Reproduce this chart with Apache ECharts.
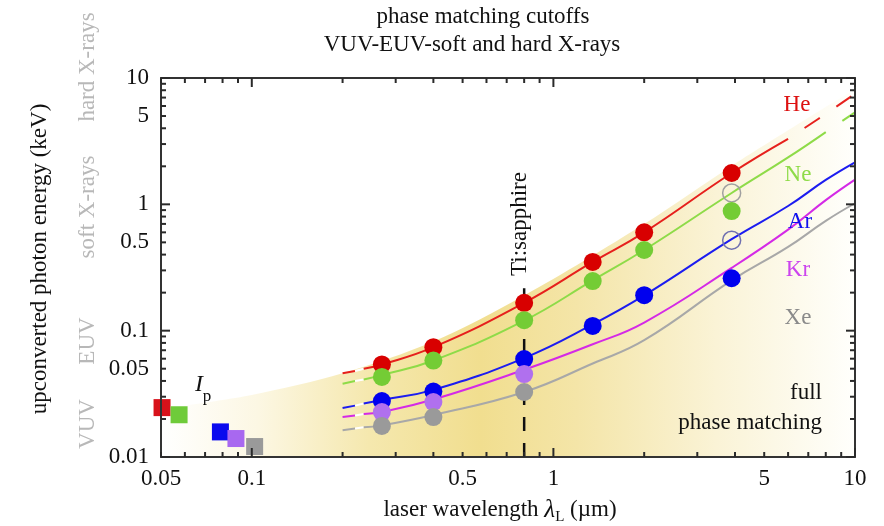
<!DOCTYPE html>
<html><head><meta charset="utf-8">
<script src="https://cdn.jsdelivr.net/npm/echarts@6/dist/echarts.min.js"></script>
<style>html,body{margin:0;padding:0;background:#fff}#c{width:884px;height:526px}</style>
</head><body><div id="c"></div>
<script>
// ---------- data ----------
const xRange = [0.05, 10];
const yRange = [0.01, 10];
const xTickValues = [0.05,0.06,0.07,0.08,0.09,0.1,0.2,0.3,0.4,0.5,0.6,0.7,0.8,0.9,1,2,3,4,5,6,7,8,9,10];
const xDecades = [0.1, 1, 10];
const xLabelValues = [0.05, 0.1, 0.5, 1, 5, 10];
const xLabelTexts = ['0.05', '0.1', '0.5', '1', '5', '10'];
const yTickValues = [0.01,0.02,0.03,0.04,0.05,0.06,0.07,0.08,0.09,0.1,0.2,0.3,0.4,0.5,0.6,0.7,0.8,0.9,1,2,3,4,5,6,7,8,9,10];
const yDecades = [0.01, 0.1, 1, 10];
const yLabelValues = [0.01, 0.05, 0.1, 0.5, 1, 5, 10];
const yLabelTexts = ['0.01', '0.05', '0.1', '0.5', '1', '5', '10'];

const gases = ['He', 'Ne', 'Ar', 'Kr', 'Xe'];
// ionization potentials (squares)
const ipWavelength = [0.0504, 0.0574, 0.0787, 0.0886, 0.1022];
const ipEnergy = [0.0246, 0.0216, 0.0158, 0.0140, 0.0121];

// measured cutoffs (filled dots)
const dotWavelength = [0.27, 0.4, 0.8, 1.35, 2.0, 3.9];
const heDots = [0.054, 0.074, 0.166, 0.35, 0.60, 1.77];
const neDots = [0.043, 0.058, 0.121, 0.247, 0.435, 0.885];
const arDots = [0.0277, 0.033, 0.0596, 0.109, 0.191, 0.26];
const krDots = [0.0227, 0.0272, 0.0453];
const xeDots = [0.0176, 0.0207, 0.0327];
// open circles (Ne, Ar at 3.9 um)
const neOpen = [[3.9, 1.23]];
const arOpen = [[3.9, 0.52]];

// phase-matching cutoff curves
const curveWavelength = [0.2, 0.22, 0.235, 0.27, 0.4, 0.8, 1.35, 2, 3.9, 6, 8, 10];
const heCurve = [0.046, 0.048, 0.050, 0.054, 0.074, 0.166, 0.35, 0.60, 1.77, 3.3, 5.2, 7.5];
const neCurve = [0.038, 0.040, 0.041, 0.0445, 0.058, 0.12, 0.25, 0.435, 1.23, 2.35, 3.73, 5.35];
const arCurve = [0.0244, 0.0255, 0.0265, 0.0283, 0.034, 0.0607, 0.112, 0.19, 0.53, 0.97, 1.56, 2.15];
const krCurve = [0.0207, 0.0213, 0.0219, 0.0228, 0.0285, 0.049, 0.078, 0.116, 0.314, 0.63, 1.08, 1.57];
const xeCurve = [0.0163, 0.0168, 0.0172, 0.0178, 0.0215, 0.0327, 0.055, 0.084, 0.25, 0.46, 0.74, 1.02];
const solidEndWavelength = [6, 8, 10, 10, 10];

// full phase matching region (shaded)
const fillWavelength = [0.05, 0.1, 0.2, 0.4, 0.8, 2, 4, 10];
const fillEnergy = [0.024, 0.031, 0.046, 0.082, 0.19, 0.7, 2.1, 8.2];

// Ti:sapphire marker
const tiWavelength = [0.8, 0.8];
const tiEnergy = [0.01, 0.217];

// ---------- styles ----------
const FONT = '"Liberation Serif", "DejaVu Serif", serif';
const gasStyle = {
  He: {line: '#e6201c', dot: '#d80000', sq: '#d8121a', text: '#dd1111'},
  Ne: {line: '#8edb48', dot: '#74cc35', sq: '#6fcb3a', text: '#8edb48'},
  Ar: {line: '#1c1cf0', dot: '#0000ee', sq: '#0a0aee', text: '#1111ee'},
  Kr: {line: '#d42ae6', dot: '#b070ee', sq: '#a868f0', text: '#cc44ee'},
  Xe: {line: '#a8a8a8', dot: '#9a9a9a', sq: '#9a9a9a', text: '#8a8a8a'}
};
const curves = {He: heCurve, Ne: neCurve, Ar: arCurve, Kr: krCurve, Xe: xeCurve};
const dots = {He: heDots, Ne: neDots, Ar: arDots, Kr: krDots, Xe: xeDots};

const zip = (xs, ys) => ys.map((y, i) => [xs[i], y]);
const series = [];

// shaded region
series.push({
  type: 'line', data: zip(fillWavelength, fillEnergy), smooth: 0.3, symbol: 'none', silent: true, z: 1,
  lineStyle: {width: 0},
  areaStyle: {origin: 'start', opacity: 1, color: new echarts.graphic.LinearGradient(0, 0, 1, 0, [
    {offset: 0, color: '#ffffff'}, {offset: 0.14, color: '#fcf7e3'}, {offset: 0.3, color: '#f5e8ae'},
    {offset: 0.46, color: '#f1de8f'}, {offset: 0.6, color: '#f4e5a8'}, {offset: 0.8, color: '#faf3d6'},
    {offset: 1, color: '#fffffc'}])}
});

// Ti:sapphire dashed line
series.push({
  type: 'line', data: zip(tiWavelength, tiEnergy), symbol: 'none', silent: true, z: 2,
  lineStyle: {color: '#111', width: 2.5, type: [14, 12]}
});

gases.forEach((g, gi) => {
  const st = gasStyle[g];
  const c = zip(curveWavelength, curves[g]);
  const endIdx = curveWavelength.indexOf(solidEndWavelength[gi]);
  const base = {type: 'line', symbol: 'none', silent: true, z: 3, clip: true};
  series.push(Object.assign({}, base, {data: c.slice(0, 2), lineStyle: {color: st.line, width: 2}}));
  series.push(Object.assign({}, base, {data: c.slice(1, 3), lineStyle: {color: '#ffffff', width: 2}}));
  series.push(Object.assign({}, base, {data: c.slice(2, endIdx + 1), smooth: 0.45, lineStyle: {color: st.line, width: 2}}));
  if (endIdx < c.length - 1) {
    series.push(Object.assign({}, base, {data: c.slice(endIdx), smooth: 0.45,
      lineStyle: {color: st.line, width: 2, type: [18, 20], dashOffset: 18}}));
  }
});

// open circles
series.push({type: 'scatter', data: neOpen, symbol: 'circle', symbolSize: 18, z: 4, silent: true,
  itemStyle: {color: 'rgba(255,255,255,0)', borderColor: '#a0a0a0', borderWidth: 1.5, opacity: 1}});
series.push({type: 'scatter', data: arOpen, symbol: 'circle', symbolSize: 18, z: 4, silent: true,
  itemStyle: {color: 'rgba(255,255,255,0)', borderColor: '#7070b0', borderWidth: 1.5, opacity: 1}});

// filled dots
gases.forEach(g => {
  series.push({type: 'scatter', data: zip(dotWavelength, dots[g]), symbol: 'circle', symbolSize: 18, z: 5, silent: true,
    itemStyle: {color: gasStyle[g].dot, opacity: 1}});
});

// ionization potential squares
series.push({type: 'scatter', z: 5, silent: true, symbol: 'rect', symbolSize: 17,
  data: ipWavelength.map((x, i) => ({value: [x, ipEnergy[i]], itemStyle: {color: gasStyle[gases[i]].sq, opacity: 1}}))});

// tick marks on all four sides (rect symbols placed on the frame by the axis scales)
function tickSeries(values, decades, side) {
  const isX = side === 'bottom' || side === 'top';
  return {
    type: 'scatter', z: 40, silent: true, clip: false, symbol: 'rect',
    itemStyle: {color: '#2a2a2a', opacity: 1},
    data: values.map(v => {
      const len = decades.indexOf(v) >= 0 ? 9 : 5;
      let size, offset;
      if (side === 'bottom') { size = [2, len]; offset = [0, -len / 2]; }
      else if (side === 'top') { size = [2, len]; offset = [0, len / 2]; }
      else if (side === 'left') { size = [len, 2]; offset = [len / 2, 0]; }
      else { size = [len, 2]; offset = [-len / 2, 0]; }
      return {
        value: isX ? [v, side === 'bottom' ? yRange[0] : yRange[1]] : [side === 'left' ? xRange[0] : xRange[1], v],
        symbolSize: size, symbolOffset: offset
      };
    })
  };
}
series.push(tickSeries(xTickValues, xDecades, 'bottom'));
series.push(tickSeries(xTickValues, xDecades, 'top'));
series.push(tickSeries(yTickValues, yDecades, 'left'));
series.push(tickSeries(yTickValues, yDecades, 'right'));

// tick labels
series.push({
  type: 'custom', z: 20, silent: true, clip: false, encode: {x: 0, y: 1},
  data: xLabelValues.map(v => [v, yRange[0]]),
  renderItem: (params, api) => {
    const p = api.coord([api.value(0), yRange[0]]);
    return {type: 'text', x: p[0], y: p[1] + 10,
      style: {text: xLabelTexts[params.dataIndex], font: '23px ' + FONT, fill: '#111', align: 'center', verticalAlign: 'top'}};
  }
});
series.push({
  type: 'custom', z: 20, silent: true, clip: false, encode: {x: 0, y: 1},
  data: yLabelValues.map(v => [xRange[0], v]),
  renderItem: (params, api) => {
    const p = api.coord([xRange[0], api.value(1)]);
    return {type: 'text', x: p[0] - 12, y: p[1],
      style: {text: yLabelTexts[params.dataIndex], font: '23px ' + FONT, fill: '#111', align: 'right', verticalAlign: 'middle'}};
  }
});

function axisDef(pos) {
  return {type: 'log', logBase: 10, position: pos, z: 30,
    axisLine: {show: true, onZero: false, lineStyle: {color: '#333', width: 2}},
    axisTick: {show: false}, axisLabel: {show: false}, splitLine: {show: false}, minorTick: {show: false}};
}
const xAxes = [Object.assign(axisDef('bottom'), {min: xRange[0], max: xRange[1]}),
               Object.assign(axisDef('top'), {min: xRange[0], max: xRange[1]})];
const yAxes = [Object.assign(axisDef('left'), {min: yRange[0], max: yRange[1]}),
               Object.assign(axisDef('right'), {min: yRange[0], max: yRange[1]})];

function txt(text, x, y, opts) {
  return Object.assign({type: 'text', x: x, y: y, z: 50, silent: true,
    style: Object.assign({text: text, font: '23px ' + FONT, fill: '#111', align: 'center', verticalAlign: 'middle'}, opts || {})});
}
const gray = '#b8b8b8';
const graphics = [
  txt('phase matching cutoffs', 483, 17),
  txt('VUV-EUV-soft and hard X-rays', 472, 45),
  Object.assign(txt('upconverted photon energy (keV)', 40, 259), {rotation: Math.PI / 2}),
  Object.assign(txt('hard X-rays', 88, 67, {fill: gray}), {rotation: Math.PI / 2}),
  Object.assign(txt('soft X-rays', 88, 207, {fill: gray}), {rotation: Math.PI / 2}),
  Object.assign(txt('EUV', 88, 341, {fill: gray}), {rotation: Math.PI / 2}),
  Object.assign(txt('VUV', 88, 424, {fill: gray}), {rotation: Math.PI / 2}),
  Object.assign(txt('Ti:sapphire', 520, 224), {rotation: Math.PI / 2}),
  txt('He', 797, 105, {fill: gasStyle.He.text}),
  txt('Ne', 798, 175, {fill: gasStyle.Ne.text}),
  txt('Ar', 800, 222, {fill: gasStyle.Ar.text}),
  txt('Kr', 798, 270, {fill: gasStyle.Kr.text}),
  txt('Xe', 798, 318, {fill: gasStyle.Xe.text}),
  txt('full', 822, 393, {align: 'right'}),
  txt('phase matching', 822, 423, {align: 'right'}),
  txt('I', 199, 385, {font: 'italic 24px ' + FONT}),
  txt('p', 207, 397, {font: '17px ' + FONT}),
  {type: 'text', x: 500, y: 510, z: 50, silent: true, style: {
    text: '{n|laser wavelength }{l|λ}{s|L}{n| (µm)}', align: 'center', verticalAlign: 'middle', fill: '#111',
    rich: {
      n: {fontFamily: FONT, fontSize: 23, lineHeight: 30, verticalAlign: 'middle', fill: '#111'},
      l: {fontFamily: FONT, fontSize: 25, fontStyle: 'italic', lineHeight: 30, verticalAlign: 'middle', fill: '#111'},
      s: {fontFamily: FONT, fontSize: 15, lineHeight: 16, verticalAlign: 'bottom', fill: '#111'}
    }}}
];

const chart = echarts.init(document.getElementById('c'), null, {renderer: 'canvas'});
chart.setOption({
  animation: false,
  backgroundColor: '#ffffff',
  grid: {left: 161, right: 29, top: 78, bottom: 69, containLabel: false},
  xAxis: xAxes,
  yAxis: yAxes,
  series: series,
  graphic: graphics
});
</script></body></html>
